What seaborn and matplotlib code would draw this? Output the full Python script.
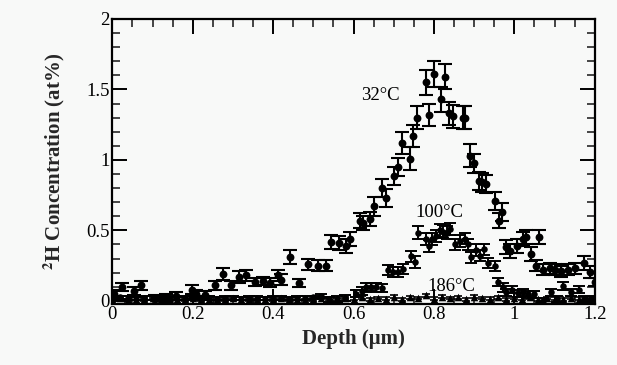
import numpy as np
import pandas as pd
import matplotlib
matplotlib.use("Agg")
import matplotlib.pyplot as plt
import seaborn as sns
from matplotlib.ticker import MultipleLocator

# ---- data ----
d32 = [0.003,0.024,0.054,0.072,0.105,0.133,0.158,0.197,0.209,0.23,0.255,0.275,0.296,0.315,0.333,0.354,0.375,0.391,0.412,0.42,
       0.443,0.464,0.487,0.512,0.532,0.545,0.564,0.582,0.592,0.615,0.624,0.642,0.651,0.672,0.68,0.70,0.71,0.72,0.74,0.748,
       0.758,0.78,0.788,0.799,0.817,0.828,0.838,0.847,0.872,0.878,0.889,0.899,0.912,0.92,0.93,0.951,0.962,0.969,0.98,0.99,
       1.007,1.021,1.03,1.042,1.053,1.061,1.071,1.088,1.102,1.115,1.133,1.15,1.172,1.187,1.2]
c32 = [0.05,0.10,0.07,0.11,0.01,0.02,0.035,0.08,0.05,0.04,0.11,0.19,0.11,0.17,0.18,0.135,0.14,0.13,0.18,0.15,
       0.31,0.125,0.26,0.25,0.25,0.42,0.41,0.39,0.44,0.57,0.55,0.58,0.67,0.80,0.73,0.885,0.95,1.12,1.01,1.17,
       1.30,1.55,1.32,1.61,1.43,1.59,1.33,1.31,1.30,1.30,1.03,0.975,0.85,0.84,0.83,0.71,0.57,0.63,0.38,0.355,
       0.39,0.44,0.45,0.33,0.25,0.45,0.22,0.23,0.22,0.21,0.22,0.23,0.27,0.205,0.135]
e32 = [0.03,0.03,0.03,0.03,0.03,0.03,0.03,0.03,0.03,0.03,0.03,0.04,0.03,0.04,0.04,0.03,0.03,0.03,0.04,0.04,
       0.05,0.03,0.04,0.04,0.04,0.05,0.05,0.05,0.05,0.05,0.05,0.05,0.065,0.065,0.065,0.065,0.065,0.08,0.08,0.08,
       0.08,0.09,0.08,0.09,0.09,0.09,0.08,0.08,0.08,0.08,0.08,0.065,0.065,0.065,0.065,0.065,0.05,0.065,0.05,0.05,
       0.05,0.05,0.05,0.05,0.04,0.05,0.04,0.04,0.04,0.04,0.04,0.04,0.05,0.04,0.03]

d100 = [0.0,0.02,0.04,0.06,0.08,0.10,0.12,0.14,0.16,0.18,0.20,0.22,0.24,0.26,0.28,0.30,0.32,0.34,0.36,0.38,
        0.40,0.42,0.44,0.46,0.48,0.50,0.52,0.54,0.56,0.58,0.605,0.62,0.632,0.644,0.657,0.672,0.686,0.698,0.71,0.723,
        0.744,0.752,0.76,0.781,0.788,0.794,0.806,0.814,0.823,0.833,0.841,0.852,0.864,0.876,0.885,0.893,0.905,0.915,0.924,0.934,
        0.951,0.959,0.971,0.98,0.995,1.009,1.021,1.034,1.05,1.07,1.09,1.105,1.12,1.14,1.16,1.172,1.19]
c100 = [0.02,0.025,0.02,0.015,0.02,0.02,0.025,0.02,0.015,0.02,0.025,0.02,0.02,0.015,0.02,0.02,0.015,0.02,0.02,0.015,
        0.02,0.02,0.015,0.02,0.02,0.025,0.035,0.01,0.015,0.02,0.05,0.07,0.095,0.10,0.095,0.09,0.22,0.205,0.205,0.225,
        0.315,0.275,0.485,0.44,0.39,0.44,0.46,0.50,0.49,0.485,0.51,0.40,0.425,0.44,0.40,0.31,0.36,0.32,0.365,0.27,
        0.25,0.135,0.095,0.06,0.08,0.055,0.06,0.047,0.047,0.0,0.06,0.012,0.105,0.06,0.08,0.012,0.012]
e100 = [0.012,0.012,0.012,0.012,0.012,0.012,0.012,0.012,0.012,0.012,0.012,0.012,0.012,0.012,0.012,0.012,0.012,0.012,0.012,0.012,
        0.012,0.012,0.012,0.012,0.012,0.012,0.012,0.02,0.02,0.02,0.025,0.025,0.03,0.03,0.03,0.03,0.035,0.035,0.035,0.035,
        0.04,0.04,0.045,0.045,0.04,0.045,0.045,0.045,0.045,0.045,0.045,0.04,0.04,0.04,0.04,0.04,0.04,0.04,0.04,0.035,
        0.035,0.03,0.03,0.025,0.025,0.025,0.025,0.025,0.025,0.02,0.025,0.02,0.03,0.025,0.025,0.02,0.02]

d186 = [0.0,0.02,0.04,0.06,0.08,0.10,0.12,0.14,0.16,0.18,0.20,0.22,0.24,0.26,0.28,0.30,0.32,0.34,0.36,0.38,
        0.40,0.42,0.44,0.46,0.48,0.50,0.52,0.54,0.56,0.58,0.60,0.62,0.64,0.66,0.68,0.70,0.72,0.74,0.76,0.78,
        0.80,0.82,0.84,0.86,0.88,0.90,0.92,0.94,0.96,0.98,1.00,1.02,1.04,1.06,1.08,1.10,1.12,1.14,1.16,1.18,1.20]
c186 = [0.01,0.02,0.005,0.015,0.01,0.02,0.01,0.005,0.015,0.01,0.02,0.01,0.015,0.005,0.01,0.02,0.015,0.01,0.005,0.015,
        0.01,0.02,0.01,0.015,0.005,0.01,0.02,0.015,0.01,0.02,0.015,0.025,0.01,0.02,0.015,0.03,0.01,0.025,0.02,0.04,
        0.015,0.03,0.02,0.025,0.01,0.03,0.02,0.015,0.025,0.01,0.02,0.015,0.025,0.01,0.02,0.015,0.01,0.02,0.015,0.01,0.02]
e186 = [0.01,0.01,0.01,0.01,0.01,0.01,0.01,0.01,0.01,0.01,0.01,0.01,0.01,0.01,0.01,0.01,0.01,0.01,0.01,0.01,
        0.01,0.01,0.01,0.01,0.01,0.01,0.01,0.01,0.01,0.01,0.01,0.01,0.01,0.01,0.01,0.01,0.01,0.01,0.01,0.01,
        0.01,0.01,0.01,0.01,0.01,0.01,0.01,0.01,0.01,0.01,0.01,0.01,0.01,0.01,0.01,0.01,0.01,0.01,0.01,0.01,0.01]

labels = ["32°C", "100°C", "186°C"]
xticks = [0, 0.2, 0.4, 0.6, 0.8, 1, 1.2]
xticklabels = ["0", "0.2", "0.4", "0.6", "0.8", "1", "1.2"]
yticks = [0, 0.5, 1, 1.5, 2]
yticklabels = ["0", "0.5", "1", "1.5", "2"]

# ---- style ----
sns.set_style("ticks")
plt.rcParams["font.family"] = ["Liberation Serif", "DejaVu Serif"]
plt.rcParams["mathtext.fontset"] = "stix"
bg = "#f8f9f8"

fig = plt.figure(figsize=(6.17, 3.65), dpi=100, facecolor=bg)
ax = fig.add_axes([0.182, 0.168, 0.782, 0.78])
ax.set_facecolor(bg)

df32 = pd.DataFrame({"depth": d32, "conc": c32, "err": e32})
df100 = pd.DataFrame({"depth": d100, "conc": c100, "err": e100})
df186 = pd.DataFrame({"depth": d186, "conc": c186, "err": e186})

ax.errorbar(df32["depth"], df32["conc"], yerr=df32["err"], fmt="none", ecolor="black",
            elinewidth=1.5, capsize=4.8, capthick=1.5, zorder=2)
ax.errorbar(df100["depth"], df100["conc"], yerr=df100["err"], fmt="none", ecolor="black",
            elinewidth=1.4, capsize=4.3, capthick=1.4, zorder=2)
ax.errorbar(df186["depth"], df186["conc"], yerr=df186["err"], fmt="none", ecolor="black",
            elinewidth=1.2, capsize=3.0, capthick=1.2, zorder=2)

sns.scatterplot(data=df32, x="depth", y="conc", ax=ax, color="black", marker="o",
                s=32, linewidth=0, zorder=3, legend=False)
sns.scatterplot(data=df100, x="depth", y="conc", ax=ax, color="black", marker="o",
                s=22, linewidth=0, zorder=3, legend=False)
sns.scatterplot(data=df186, x="depth", y="conc", ax=ax, color="black", marker="^",
                s=30, linewidth=0, zorder=3, legend=False)

ax.set_xlim(0, 1.2)
ax.set_ylim(-0.02, 2)
ax.set_xticks(xticks)
ax.set_xticklabels(xticklabels)
ax.set_yticks(yticks)
ax.set_yticklabels(yticklabels)
ax.xaxis.set_minor_locator(MultipleLocator(0.05))
ax.yaxis.set_minor_locator(MultipleLocator(0.1))
ax.tick_params(which="major", direction="in", top=True, right=True, length=11, width=1.4,
               labelsize=13.5, pad=2, colors="black")
ax.tick_params(which="minor", direction="in", top=True, right=True, length=5.5, width=1.2)
for sp in ax.spines.values():
    sp.set_linewidth(1.6)
    sp.set_color("black")

ax.set_xlabel("Depth (μm)", fontsize=15, fontweight="bold", labelpad=4)
ax.set_ylabel(r"$^{\mathbf{2}}$H Concentration (at%)", fontsize=15, fontweight="bold", labelpad=14)

ax.text(0.667, 1.46, labels[0], fontsize=13.5, ha="center", va="center", color="black")
ax.text(0.814, 0.625, labels[1], fontsize=13.5, ha="center", va="center", color="black")
ax.text(0.842, 0.105, labels[2], fontsize=13.5, ha="center", va="center", color="black")

fig.savefig("out.png", dpi=100, facecolor=bg)
